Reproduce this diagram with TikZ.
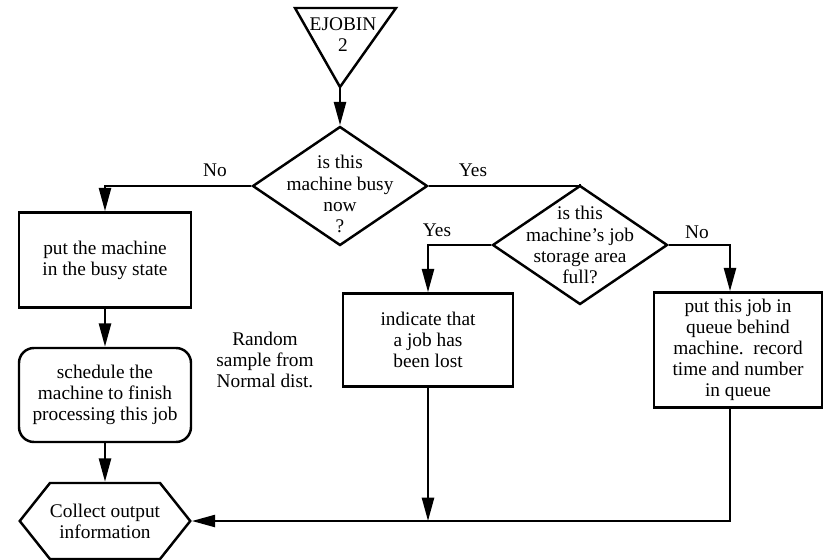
\documentclass[tikz,border=0pt]{standalone}
\usepackage{fontspec}
\setmainfont{Liberation Serif}
\usetikzlibrary{shapes.geometric,shapes.symbols,arrows.meta,calc}

\begin{document}
\begin{tikzpicture}[x=0.03cm, y=-0.03cm, line width=2.1pt,
    font=\fontsize{16.5}{18}\selectfont,
    flow/.style={-{Triangle[length=0.7cm, width=0.36cm]}},
    box/.style={draw, rectangle, align=center, inner sep=0pt},
    decision/.style={draw, diamond, minimum width=5.25cm, minimum height=3.57cm, inner sep=0pt}]

    \useasboundingbox (0,0) rectangle (825,559);

    % Entry triangle
    \draw[line join=miter] (295,8) -- (396,8) -- (340,87) -- cycle;
    \node[align=center] (ejobin) at (343,35) {EJOBIN\\2};
    \coordinate (apex) at (340,87);

    % Is the machine busy?
    \node[decision, label={[align=center, yshift=-0.24cm]center:{is this\\machine busy\\now\\?}}] (busy) at (340,186) {};
    \draw[flow] (apex) -- (busy.north);

    % Is the job storage full?
    \node[decision, label={[align=center]center:{is this\\machine{\char"27}s job\\storage area\\full?}}] (full) at (580,245) {};
    \draw (busy.east) -| (full.north);

    % Left column
    \node[box, minimum width=5.16cm, minimum height=2.85cm] (busybox) at (105,260) {put the machine\\in the busy state};
    \node[box, rounded corners=0.45cm, minimum width=5.16cm, minimum height=2.82cm] (sched) at (105,395) {schedule the\\machine to finish\\processing this job};
    \node[draw, signal, signal to=east and west, signal pointer angle=103, inner sep=0pt,
        minimum width=5.1cm, minimum height=2.28cm, align=center] (collect) at (105,521) {Collect output\\information};

    \draw[flow] (busy.west) -| (busybox.north);
    \draw[flow] (busybox.south) -- (sched.north);
    \draw[flow] (sched.south) -- (collect.north);

    \node[align=center] (random) at (265,360) {Random\\sample from\\Normal dist.};

    % Right branches
    \node[box, minimum width=5.1cm, minimum height=2.79cm] (lost) at (428,340) {indicate that\\a job has\\been lost};
    \node[box, minimum width=5.04cm, minimum height=3.45cm] (queue) at (738,350) {put this job in\\queue behind\\machine.\ \ record\\time and number\\in queue};
    \coordinate (qtop) at ($(queue.north)+(-8,0)$);

    \draw[flow] (full.west) -| (lost.north);
    \draw[flow] (full.east) -| (qtop);
    \draw[flow] (lost.south) -- (lost.south |- collect.east);
    \draw[flow] (qtop |- queue.south) |- (collect.east);

    % Branch labels
    \node (nobusy) at (215,170) {No};
    \node (yesbusy) at (473,170) {Yes};
    \node (yesfull) at (437,230) {Yes};
    \node (nofull) at (697,232) {No};

\end{tikzpicture}
\end{document}
